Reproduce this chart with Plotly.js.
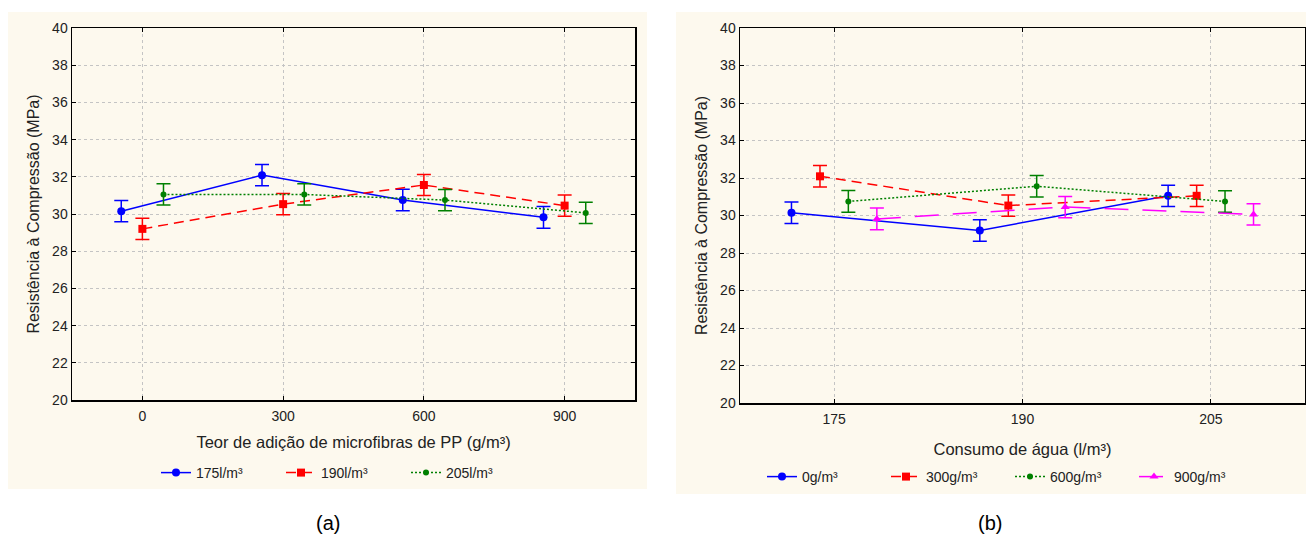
<!DOCTYPE html>
<html>
<head>
<meta charset="utf-8">
<script src="https://cdn.plot.ly/plotly-3.0.1.min.js"></script>
<style>
  html, body { margin: 0; padding: 0; background: #ffffff; overflow: hidden; }
  #chart { width: 1306px; height: 539px; }
</style>
</head>
<body>
<div id="chart"></div>
<script>
// ---- Data ----
const fibras = [0, 300, 600, 900];               // g/m³ (x of panel a)
const agua = [175, 190, 205];                    // l/m³ (x of panel b)
const nomesAgua = ['175l/m³', '190l/m³', '205l/m³'];
const nomesFibras = ['0g/m³', '300g/m³', '600g/m³', '900g/m³'];

// Resistência à compressão (MPa) by water consumption, over fibre contents 0/300/600/900
const res175 = [30.15, 32.09, 30.75, 29.82];
const res190 = [29.20, 30.53, 31.56, 30.45];
const res205 = [31.05, 31.05, 30.75, 30.06];

// Half-length of the error bars (MPa)
const err175 = [0.57, 0.57, 0.58, 0.58];
const err190 = [0.57, 0.57, 0.57, 0.57];
const err205 = [0.57, 0.57, 0.57, 0.57];

const xTicksA = ['0', '300', '600', '900'];
const xTicksB = ['175', '190', '205'];

// ---- Styles ----
const FONT = 'Liberation Sans, Arial, sans-serif';
const cores = ['#0000ff', '#ff0000', '#008000', '#ff00ff'];
const simbolos = ['circle', 'square', 'circle', 'triangle-up'];
const tamanhos = [8, 8, 6, 8];
const tracos = ['solid', '10px,6px', '2px,2px', '24px,14px'];
const offA = [-45, 0, 45];
const offB = [-3.4, -1.13, 1.13, 3.4];

const resAgua = [res175, res190, res205];
const errAgua = [err175, err190, err205];

const traces = [];
// Panel (a): x = fibre content, one series per water consumption
resAgua.forEach((vals, s) => {
  traces.push({
    type: 'scatter', mode: 'lines+markers',
    x: fibras.map(f => f + offA[s]), y: vals,
    name: nomesAgua[s],
    xaxis: 'x', yaxis: 'y', legend: 'legend',
    line: { color: cores[s], width: 1.5, dash: tracos[s] },
    marker: { color: cores[s], symbol: simbolos[s], size: tamanhos[s] },
    error_y: { type: 'data', array: errAgua[s], visible: true, color: cores[s], thickness: 1.5, width: 7 }
  });
});
// Panel (b): x = water consumption, one series per fibre content
fibras.forEach((f, s) => {
  traces.push({
    type: 'scatter', mode: 'lines+markers',
    x: agua.map(a => a + offB[s]), y: resAgua.map(r => r[s]),
    name: nomesFibras[s],
    xaxis: 'x2', yaxis: 'y2', legend: 'legend2',
    line: { color: cores[s], width: 1.5, dash: tracos[s] },
    marker: { color: cores[s], symbol: simbolos[s], size: tamanhos[s] },
    error_y: { type: 'data', array: errAgua.map(e => e[s]), visible: true, color: cores[s], thickness: 1.5, width: 7 }
  });
});

const W = 1306, H = 539;
const px = v => v / W, py = v => 1 - v / H;

const axBase = {
  showline: true, linecolor: '#000', linewidth: 1.5, mirror: 'ticks',
  ticks: 'inside', ticklen: 4, tickcolor: '#000',
  showgrid: true, gridcolor: '#c4c4c4', griddash: 'dot', gridwidth: 1,
  zeroline: false, tickfont: { family: FONT, size: 14, color: '#222' }
};
const yBase = Object.assign({}, axBase, {
  range: [20, 40], dtick: 2, tick0: 20,
  title: { text: 'Resistência à Compressão (MPa)', font: { family: FONT, size: 16, color: '#222' }, standoff: 8 }
});

const layout = {
  width: W, height: H,
  margin: { l: 0, r: 0, t: 0, b: 0, autoexpand: false },
  paper_bgcolor: '#ffffff', plot_bgcolor: '#ffffff',
  showlegend: true,
  font: { family: FONT, color: '#222' },
  xaxis: Object.assign({}, axBase, {
    domain: [px(72), px(635)], range: [-150, 1050],
    tickvals: fibras, ticktext: xTicksA, anchor: 'y', ticklabelstandoff: 3,
    title: { text: 'Teor de adição de microfibras de PP (g/m³)', font: { family: FONT, size: 16.5, color: '#222' }, standoff: 13 }
  }),
  yaxis: Object.assign({}, yBase, { domain: [py(400), py(28)], anchor: 'x' }),
  xaxis2: Object.assign({}, axBase, {
    domain: [px(740), px(1305)], range: [167.5, 212.5],
    tickvals: agua, ticktext: xTicksB, anchor: 'y2', ticklabelstandoff: 3,
    title: { text: 'Consumo de água (l/m³)', font: { family: FONT, size: 16.5, color: '#222' }, standoff: 17 }
  }),
  yaxis2: Object.assign({}, yBase, { domain: [py(403), py(28)], anchor: 'x2' }),
  legend: {
    orientation: 'h', x: px(156), xanchor: 'left', y: py(473), yanchor: 'middle',
    bgcolor: 'rgba(0,0,0,0)', font: { family: FONT, size: 14, color: '#222' },
    entrywidth: 80, entrywidthmode: 'pixels', itemclick: false
  },
  legend2: {
    orientation: 'h', x: px(762), xanchor: 'left', y: py(477), yanchor: 'middle',
    bgcolor: 'rgba(0,0,0,0)', font: { family: FONT, size: 14, color: '#222' },
    entrywidth: 79, entrywidthmode: 'pixels', itemclick: false
  },
  shapes: [
    { type: 'rect', xref: 'paper', yref: 'paper', x0: px(8), x1: px(647), y0: py(489), y1: py(12),
      fillcolor: '#fdf9ee', line: { width: 0 }, layer: 'below' },
    { type: 'rect', xref: 'paper', yref: 'paper', x0: px(676), x1: px(1306), y0: py(494), y1: py(12),
      fillcolor: '#fdf9ee', line: { width: 0 }, layer: 'below' }
  ],
  annotations: [
    { text: '(a)', xref: 'paper', yref: 'paper', x: px(328), y: py(523), xanchor: 'center', yanchor: 'middle',
      showarrow: false, font: { family: FONT, size: 20, color: '#000' } },
    { text: '(b)', xref: 'paper', yref: 'paper', x: px(990), y: py(523), xanchor: 'center', yanchor: 'middle',
      showarrow: false, font: { family: FONT, size: 20, color: '#000' } }
  ]
};

Plotly.newPlot('chart', traces, layout, { staticPlot: true, displayModeBar: false });
</script>
</body>
</html>
